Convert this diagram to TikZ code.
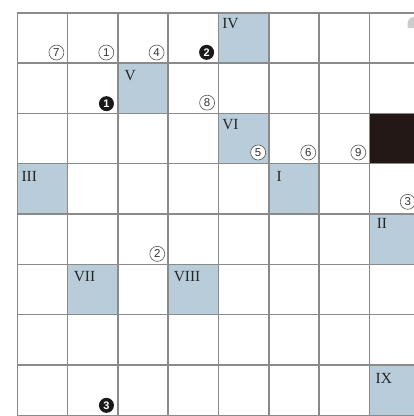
\documentclass[tikz,border=0pt]{standalone}
\usepackage{fontspec}
\setmainfont{Liberation Serif}
\newfontfamily\digitfont{Liberation Sans}
\definecolor{cellblue}{HTML}{B8CDD9}
\definecolor{gridgray}{HTML}{8A8A8A}
\definecolor{darkcell}{HTML}{231815}
\definecolor{circgray}{HTML}{555555}
\tikzset{
  gridline/.style={draw=gridgray, line width=1.6bp},
  roman/.style={anchor=north west, inner sep=0pt, text=black!85, font=\fontsize{15.5}{15.5}\selectfont},
  circnum/.style={circle, draw=circgray, line width=0.6bp, fill=white, minimum size=15bp, inner sep=0pt, text=black!80, font=\fontsize{11.5}{11.5}\digitfont},
  blacknum/.style={circle, fill=black!90, minimum size=15bp, inner sep=0pt, text=white, font=\fontsize{11}{11}\digitfont\bfseries}
}
\begin{document}
\begin{tikzpicture}[x=1bp,y=-1bp]
\useasboundingbox (0,0) rectangle (414,416);
\fill[white] (0,0) rectangle (414,416);
\clip (0,0) rectangle (414,416);
\begin{scope}[shift={(17.3bp,-12.7bp)}, x=50.33bp, y=-50.33bp]
  % shaded cells
  \fill[cellblue] (4,0) rectangle (5,1);
  \fill[cellblue] (2,1) rectangle (3,2);
  \fill[cellblue] (4,2) rectangle (5,3);
  \fill[cellblue] (0,3) rectangle (1,4);
  \fill[cellblue] (5,3) rectangle (6,4);
  \fill[cellblue] (7,4) rectangle (8,5);
  \fill[cellblue] (1,5) rectangle (2,6);
  \fill[cellblue] (3,5) rectangle (4,6);
  \fill[cellblue] (7,7) rectangle (8,8);
  \fill[darkcell] (7,2) rectangle (8,3);
  % grid
  \foreach \i in {0,...,8} \draw[gridline] (\i,0) -- (\i,8);
  \foreach \j in {0,...,8} \draw[gridline] (0,\j) -- (8,\j);
  % roman labels
  \node[roman] (lIV)   at ([xshift=3.5bp, yshift=-5.5bp]4,0) {IV};
  \node[roman] (lV)    at ([xshift=6.5bp, yshift=-7bp]2,1) {V};
  \node[roman] (lVI)   at ([xshift=3.5bp, yshift=-6bp]4,2) {VI};
  \node[roman] (lIII)  at ([xshift=4bp,   yshift=-7.3bp]0,3) {III};
  \node[roman] (lI)    at ([xshift=7.5bp, yshift=-7.3bp]5,3) {I};
  \node[roman] (lII)   at ([xshift=7bp,   yshift=-4.5bp]7,4) {II};
  \node[roman] (lVII)  at ([xshift=6bp,   yshift=-6.8bp]1,5) {VII};
  \node[roman] (lVIII) at ([xshift=5.3bp, yshift=-6.8bp]3,5) {VIII};
  \node[roman] (lIX)   at ([xshift=5.8bp, yshift=-7.9bp]7,7) {IX};
  % circled numbers
  \node[circnum]  (c7) at ([xshift=-11.2bp, yshift=10.5bp]1,1) {7};
  \node[circnum]  (c1) at ([xshift=-11.7bp, yshift=10.5bp]2,1) {1};
  \node[circnum]  (c4) at ([xshift=-11.7bp, yshift=10.5bp]3,1) {4};
  \node[blacknum] (b2) at ([xshift=-12bp,   yshift=10.7bp]4,1) {2};
  \node[blacknum] (b1) at ([xshift=-11.5bp, yshift=9.7bp]2,2) {1};
  \node[circnum]  (c8) at ([xshift=-11.5bp, yshift=10.7bp]4,2) {8};
  \node[circnum]  (c5) at ([xshift=-10.8bp, yshift=11.2bp]5,3) {5};
  \node[circnum]  (c6) at ([xshift=-11bp,   yshift=11.2bp]6,3) {6};
  \node[circnum]  (c9) at ([xshift=-11.3bp, yshift=11.2bp]7,3) {9};
  \node[circnum]  (c3) at ([xshift=-12.2bp, yshift=12.2bp]8,4) {3};
  \node[circnum]  (c2) at ([xshift=-11bp,   yshift=10.5bp]3,5) {2};
  \node[blacknum] (b3) at ([xshift=-11.5bp, yshift=10bp]2,8) {3};
\end{scope}
% fragment at top right edge
\fill[gray!40] (407.5,28) .. controls (407.5,21) .. (410.5,18) -- (414,17) -- (414,28) -- cycle;
\end{tikzpicture}
\end{document}
